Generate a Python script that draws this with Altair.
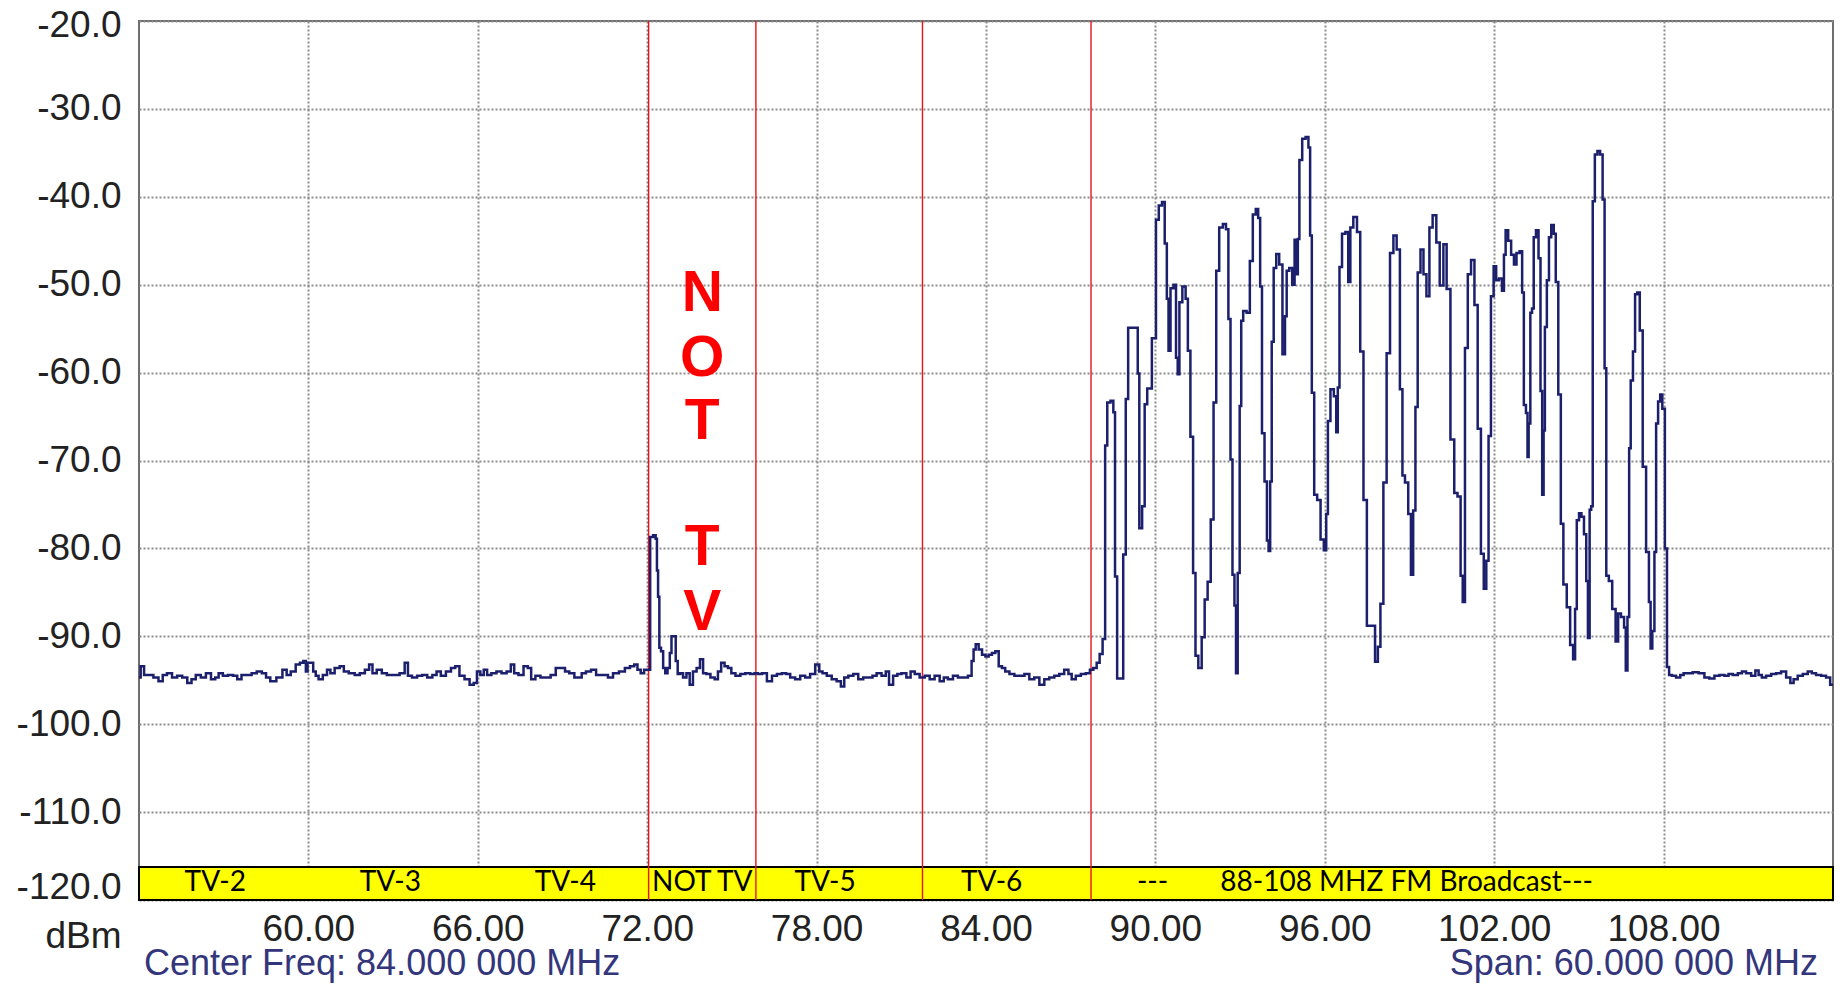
import altair as alt
import pandas as pd

# ---------------- data ----------------
# spectrum trace, (MHz, dBm) pairs, split by region
trace_low = [
    (54.00, -94.7), (54.12, -93.4), (54.24, -94.4), (54.42, -94.4), (54.60, -94.7), (54.78, -95.1),
    (54.90, -94.4), (55.08, -94.2), (55.26, -94.7), (55.44, -94.5), (55.62, -94.7), (55.80, -95.3),
    (55.92, -94.9), (56.10, -94.4), (56.28, -94.7), (56.46, -94.2), (56.64, -94.9), (56.76, -94.7),
    (56.88, -94.2), (57.06, -94.5), (57.24, -94.4), (57.42, -94.5), (57.54, -94.9), (57.72, -94.4),
    (57.90, -94.4), (58.08, -94.2), (58.26, -94.0), (58.44, -94.2), (58.56, -94.7), (58.74, -95.1),
    (58.99, -94.7), (59.17, -93.8), (59.29, -94.4), (59.46, -94.0), (59.64, -93.2), (59.76, -93.0),
    (59.88, -92.8), (59.94, -94.0), (60.00, -93.0), (60.12, -93.0), (60.22, -94.0), (60.30, -94.5),
    (60.42, -94.9), (60.60, -94.4), (60.72, -93.8), (60.84, -94.2), (61.02, -93.6), (61.20, -93.4),
    (61.31, -94.0), (61.55, -94.2), (61.73, -94.4), (61.91, -94.2), (62.09, -93.8), (62.21, -93.2),
    (62.33, -94.2), (62.51, -93.8), (62.69, -94.2), (62.87, -94.4), (63.11, -94.4), (63.35, -94.2),
    (63.47, -93.0), (63.58, -94.5), (63.76, -94.7), (63.94, -94.5), (64.12, -94.4), (64.30, -94.7),
    (64.48, -94.4), (64.60, -94.0), (64.78, -94.5), (64.96, -94.0), (65.14, -93.6), (65.26, -93.4),
    (65.44, -94.5), (65.62, -94.9), (65.80, -95.5), (65.91, -95.3), (66.03, -94.0), (66.15, -94.4),
    (66.27, -93.8), (66.39, -94.4), (66.57, -94.2), (66.75, -94.0), (66.93, -94.2), (67.11, -94.0),
    (67.23, -93.2), (67.35, -94.2), (67.53, -94.4), (67.71, -93.4), (67.83, -93.6), (67.95, -94.9),
    (68.13, -94.5), (68.31, -94.7), (68.49, -94.7), (68.67, -94.4), (68.85, -93.6), (69.03, -93.6),
    (69.15, -94.0), (69.33, -94.2), (69.51, -94.7), (69.62, -94.7), (69.74, -94.2), (69.92, -94.0),
    (70.10, -93.8), (70.28, -94.4), (70.52, -94.4), (70.70, -94.7), (70.88, -94.2), (71.12, -94.0),
    (71.30, -93.6), (71.48, -93.4), (71.60, -93.2), (71.71, -93.8), (71.83, -94.2), (71.95, -93.8),
]
trace_mid = [
    (72.06, -93.8), (72.15, -78.7), (72.27, -78.5), (72.33, -78.9), (72.36, -82.5), (72.41, -85.5),
    (72.45, -91.3), (72.53, -91.7), (72.60, -93.6), (72.68, -94.2), (72.76, -93.6), (72.84, -91.9),
    (72.88, -90.0), (72.98, -90.0), (73.04, -92.8), (73.12, -94.3), (73.21, -94.2), (73.33, -94.7),
    (73.45, -94.2), (73.56, -95.5), (73.68, -94.0), (73.82, -93.6), (73.92, -92.6), (74.04, -94.2),
    (74.15, -94.3), (74.33, -94.7), (74.45, -94.9), (74.56, -94.0), (74.68, -93.0), (74.80, -93.4),
    (74.92, -93.6), (75.04, -94.2), (75.21, -94.5), (75.39, -94.3), (75.56, -94.2), (75.74, -94.3),
    (75.86, -94.2), (75.98, -94.3), (76.15, -94.2), (76.33, -95.1), (76.51, -94.5), (76.68, -94.3),
    (76.86, -94.2), (76.98, -94.3), (77.15, -94.7), (77.33, -94.9), (77.51, -94.5), (77.68, -94.7),
    (77.86, -94.3), (78.04, -93.2), (78.15, -94.0), (78.27, -94.2), (78.45, -94.5), (78.62, -94.9),
    (78.80, -95.1), (78.92, -95.7), (79.04, -94.7), (79.21, -94.5), (79.39, -94.3), (79.56, -94.9),
    (79.74, -94.7), (79.92, -94.7), (80.04, -94.5), (80.21, -94.2), (80.39, -94.5), (80.51, -94.0),
    (80.62, -95.5), (80.80, -94.5), (80.92, -94.3), (81.09, -94.2), (81.27, -94.7), (81.39, -94.0),
    (81.56, -94.3), (81.74, -94.7), (81.92, -94.5), (82.09, -94.9), (82.27, -94.5), (82.45, -95.1),
    (82.56, -94.7), (82.74, -94.9), (82.92, -94.5), (83.09, -94.7), (83.27, -94.7), (83.45, -94.5),
    (83.53, -92.8), (83.59, -91.5), (83.68, -90.9), (83.80, -91.5), (83.92, -92.1), (84.04, -92.3),
    (84.15, -92.1), (84.27, -91.9), (84.39, -91.7), (84.51, -93.4), (84.62, -93.6), (84.74, -94.0),
    (84.92, -94.3), (85.09, -94.5), (85.27, -94.5), (85.45, -94.3), (85.62, -94.9), (85.80, -94.7),
    (85.98, -95.5), (86.15, -94.9), (86.33, -94.7), (86.51, -94.5), (86.68, -94.3), (86.86, -93.8),
    (86.98, -94.3), (87.09, -94.9), (87.27, -94.5), (87.45, -94.3), (87.62, -94.2), (87.74, -93.8),
    (87.86, -93.6), (87.98, -93.0), (88.07, -92.0), (88.19, -90.3),
]
trace_fm_a = [
    (88.25, -68.3), (88.34, -63.4), (88.48, -63.2), (88.54, -64.5), (88.60, -83.2), (88.69, -94.8),
    (88.83, -94.8), (88.89, -80.7), (89.01, -63.0), (89.06, -54.9), (89.36, -54.9), (89.39, -60.1),
    (89.47, -77.7), (89.59, -75.2), (89.65, -63.6), (89.77, -61.8), (89.98, -56.1), (90.06, -42.6),
    (90.18, -41.0), (90.29, -40.6), (90.37, -45.3), (90.44, -51.6), (90.49, -57.5), (90.58, -50.4),
    (90.70, -50.0), (90.76, -58.3), (90.82, -60.2), (90.88, -52.0), (91.03, -50.2), (91.11, -51.6),
    (91.19, -57.5), (91.29, -67.3), (91.38, -82.8), (91.46, -92.2), (91.58, -93.6), (91.70, -90.1),
    (91.79, -85.8), (91.91, -83.8), (92.01, -76.7), (92.11, -63.4), (92.20, -48.4), (92.32, -43.5),
    (92.46, -43.1), (92.54, -43.7), (92.63, -53.9), (92.69, -69.9), (92.77, -83.0), (92.83, -86.5),
    (92.88, -94.2), (92.95, -82.8), (93.02, -63.8), (93.06, -54.1), (93.16, -53.0), (93.30, -53.2),
    (93.39, -47.3), (93.51, -42.0), (93.60, -41.4), (93.68, -42.4), (93.74, -50.2), (93.81, -66.9),
    (93.92, -72.4), (93.98, -79.1), (94.04, -80.3), (94.09, -72.4), (94.15, -56.5), (94.23, -48.1),
    (94.33, -46.5), (94.44, -47.7), (94.56, -57.9), (94.62, -53.6), (94.68, -48.4), (94.80, -48.1),
    (94.89, -50.0), (94.97, -44.9),
]
trace_fm_b = [
    (95.03, -48.8), (95.06, -44.8), (95.14, -35.8), (95.26, -33.4), (95.38, -33.2), (95.46, -34.4),
    (95.50, -44.4), (95.58, -62.3), (95.67, -73.9), (95.79, -74.5), (95.91, -79.0), (96.02, -80.2),
    (96.08, -76.1), (96.14, -65.5), (96.26, -61.9), (96.38, -62.7), (96.43, -66.8), (96.49, -61.7),
    (96.55, -48.0), (96.67, -44.2), (96.79, -44.0), (96.87, -49.7), (96.94, -43.5), (97.08, -42.3),
    (97.20, -44.0), (97.31, -57.6), (97.43, -74.5), (97.55, -88.8), (97.72, -88.8), (97.84, -92.9),
    (97.92, -91.2), (98.02, -86.3), (98.13, -72.5), (98.25, -57.8), (98.37, -46.4), (98.49, -44.4),
    (98.60, -46.0), (98.72, -61.9), (98.78, -71.7), (98.90, -72.5), (99.01, -76.1), (99.09, -83.0),
    (99.17, -75.7), (99.25, -63.9), (99.33, -48.6), (99.45, -46.0), (99.54, -48.8), (99.66, -51.3),
    (99.75, -43.5), (99.89, -42.1), (100.01, -45.2), (100.13, -50.1), (100.27, -45.4), (100.36, -50.5),
    (100.54, -67.6), (100.63, -73.7), (100.77, -74.1), (100.85, -83.1), (100.92, -86.1), (101.01, -57.2),
    (101.12, -48.8), (101.24, -47.2), (101.36, -52.3), (101.47, -66.4), (101.59, -80.6), (101.67, -84.6),
    (101.77, -81.4), (101.83, -67.2), (101.94, -51.3),
]
trace_fm_c = [
    (102.02, -47.9), (102.12, -49.5), (102.22, -49.3), (102.33, -50.7), (102.36, -46.6), (102.45, -43.8),
    (102.54, -45.0), (102.66, -46.6), (102.74, -47.7), (102.84, -46.4), (102.96, -46.2), (103.02, -50.9),
    (103.08, -63.7), (103.17, -64.6), (103.19, -69.6), (103.25, -65.8), (103.31, -53.2), (103.37, -52.7),
    (103.43, -44.6), (103.53, -43.8), (103.61, -47.0), (103.67, -62.1), (103.73, -73.9), (103.77, -66.6),
    (103.82, -54.8), (103.91, -49.5), (103.97, -44.6), (104.07, -43.2), (104.15, -44.2), (104.21, -49.7),
    (104.33, -62.5), (104.39, -77.2), (104.51, -84.1), (104.63, -86.7), (104.75, -91.0), (104.84, -92.6),
    (104.89, -86.9), (104.96, -76.8), (105.05, -76.0), (105.13, -76.4), (105.23, -78.4), (105.29, -83.7),
    (105.35, -90.2), (105.41, -75.6), (105.46, -75.2), (105.52, -40.5), (105.61, -35.2), (105.70, -34.8),
    (105.80, -35.2), (105.88, -40.3), (105.94, -59.5), (106.00, -83.1), (106.12, -83.7), (106.24, -86.9),
    (106.36, -90.6), (106.42, -87.4), (106.56, -87.8), (106.64, -89.0), (106.68, -93.9), (106.76, -87.8),
    (106.80, -68.6), (106.87, -60.9), (106.96, -57.6), (107.02, -51.1), (107.11, -50.9), (107.20, -55.2),
    (107.32, -70.7), (107.44, -80.4), (107.52, -86.1), (107.56, -91.4), (107.64, -89.4), (107.71, -80.4),
    (107.76, -65.8), (107.85, -63.3), (107.91, -62.5), (108.00, -64.1), (108.09, -80.0), (108.15, -93.5),
]
trace_high = [
    (108.24, -94.4), (108.35, -94.5), (108.53, -94.7), (108.65, -94.4), (108.77, -94.2), (108.94, -94.2),
    (109.12, -94.1), (109.36, -94.2), (109.53, -94.7), (109.71, -94.8), (109.89, -94.5), (110.07, -94.4),
    (110.24, -94.5), (110.36, -94.3), (110.54, -94.4), (110.72, -94.2), (110.83, -94.0), (111.01, -94.2),
    (111.19, -94.5), (111.31, -93.9), (111.42, -94.4), (111.54, -94.7), (111.72, -94.5), (111.90, -94.3),
    (112.07, -94.2), (112.25, -94.0), (112.43, -94.7), (112.55, -95.3), (112.66, -94.9), (112.84, -94.5),
    (113.02, -94.3), (113.19, -94.0), (113.31, -94.2), (113.49, -94.4), (113.67, -94.5), (113.84, -94.7),
    (113.96, -95.5), (114.00, -95.5),
]

x_ticks = [60, 66, 72, 78, 84, 90, 96, 102, 108]
y_ticks = [-120, -110, -100, -90, -80, -70, -60, -50, -40, -30, -20]

channel_edges_mhz = [72.05, 75.85, 81.75, 87.72]

band_labels = ["TV-2", "TV-3", "TV-4", "NOT TV", "TV-5", "TV-6", "---", "88-108 MHZ FM Broadcast---"]
band_label_mhz = [56.7, 62.9, 69.1, 73.95, 78.3, 84.2, 89.9, 98.9]
band_range_mhz = (54, 114)
band_range_dbm = (-120, -116.25)
band_label_dbm = -118.1

note_letters = ["N", "O", "T", "T", "V"]
note_letter_dbm = [-51.1, -58.5, -65.6, -80.0, -87.3]
note_mhz = 73.95

center_text = "Center Freq: 84.000 000 MHz"
span_text = "Span: 60.000 000 MHz"

# ---------------- chart ----------------
PLOT_W, PLOT_H = 1694, 879
AXIS_FONT = "Liberation Sans, Arial, sans-serif"
GRID = dict(grid=True, gridColor="#8c8c8c", gridDash=[2, 2], gridWidth=2)

trace = pd.DataFrame(trace_low + trace_mid + trace_fm_a + trace_fm_b + trace_fm_c + trace_high,
                     columns=["mhz", "dbm"])
edges = pd.DataFrame({"mhz": channel_edges_mhz})
labels = pd.DataFrame({"mhz": band_label_mhz, "dbm": [band_label_dbm] * len(band_labels),
                       "label": band_labels})
band = pd.DataFrame({"mhz": [band_range_mhz[0]], "mhz2": [band_range_mhz[1]],
                     "dbm": [band_range_dbm[0]], "dbm2": [band_range_dbm[1]]})
letters = pd.DataFrame({"mhz": [note_mhz] * len(note_letters), "dbm": note_letter_dbm,
                        "label": note_letters})

x_scale = alt.Scale(domain=[54, 114], nice=False, zero=False)
y_scale = alt.Scale(domain=[-120, -20], nice=False, zero=False)

x_axis = alt.Axis(values=x_ticks, format=".2f", title=None, domain=False, ticks=False, tickSize=0,
                  labelPadding=11, labelFontSize=37, labelFont=AXIS_FONT, labelColor="#222222",
                  labelFlush=False, labelOverlap=False, **GRID)
y_axis = alt.Axis(values=y_ticks, domain=False, ticks=False, tickSize=0,
                  labelExpr="(datum.value < 0 ? '-' : '') + format(abs(datum.value), '.1f')",
                  labelPadding=18, labelFontSize=37, labelFont=AXIS_FONT, labelColor="#222222",
                  labelFlush=False, labelOverlap=False,
                  labelOffset={"condition": [{"test": "datum.value == -120", "value": -13},
                                             {"test": "datum.value == -20", "value": 4}],
                               "value": 0},
                  title="dBm", titleAngle=0, titleAlign="right", titleBaseline="middle",
                  titleX=-18, titleY=PLOT_H + 36, titleFontSize=37, titleFont=AXIS_FONT,
                  titleFontWeight="normal", titleColor="#222222", **GRID)

X = lambda f: alt.X(f, type="quantitative", scale=x_scale, axis=x_axis)
Y = lambda f: alt.Y(f, type="quantitative", scale=y_scale, axis=y_axis)

band_layer = alt.Chart(band).mark_rect(fill="#ffff00", stroke="#000000", strokeWidth=2).encode(
    x=X("mhz"), x2="mhz2", y=Y("dbm"), y2="dbm2")

edge_layer = alt.Chart(edges).mark_rule(color="#e8141c", strokeWidth=1.4).encode(
    x=X("mhz"), y=alt.value(0), y2=alt.value(PLOT_H))

label_layer = alt.Chart(labels).mark_text(font="Lato", fontSize=28, color="#000000",
                                          baseline="middle", align="center").encode(
    x=X("mhz"), y=Y("dbm"), text="label:N")

trace_layer = alt.Chart(trace).mark_line(color="#1c206c", strokeWidth=2.5, interpolate="step").encode(
    x=X("mhz"), y=Y("dbm"))

letter_layer = alt.Chart(letters).mark_text(font="Liberation Sans Narrow, Liberation Sans, sans-serif",
                                            fontSize=57, fontWeight="bold", color="#ff0000",
                                            baseline="middle", align="center").encode(
    x=X("mhz"), y=Y("dbm"), text="label:N")

center_layer = alt.Chart(pd.DataFrame({"label": [center_text]})).mark_text(
    font=AXIS_FONT, fontSize=36, color="#34367c", align="left", baseline="middle").encode(
    x=alt.value(5), y=alt.value(PLOT_H + 64), text="label:N")

span_layer = alt.Chart(pd.DataFrame({"label": [span_text]})).mark_text(
    font=AXIS_FONT, fontSize=36, color="#34367c", align="right", baseline="middle").encode(
    x=alt.value(1679), y=alt.value(PLOT_H + 64), text="label:N")

chart = alt.layer(band_layer, edge_layer, label_layer, trace_layer, letter_layer,
                  center_layer, span_layer).properties(
    width=PLOT_W, height=PLOT_H,
    autosize=alt.AutoSizeParams(type="none"),
    padding={"left": 131, "top": 13, "right": 4, "bottom": 83},
    background="#ffffff",
).configure_view(stroke="#6e6e6e", strokeWidth=2)

chart.save("out.html", embed_options={"renderer": "svg", "actions": False})
